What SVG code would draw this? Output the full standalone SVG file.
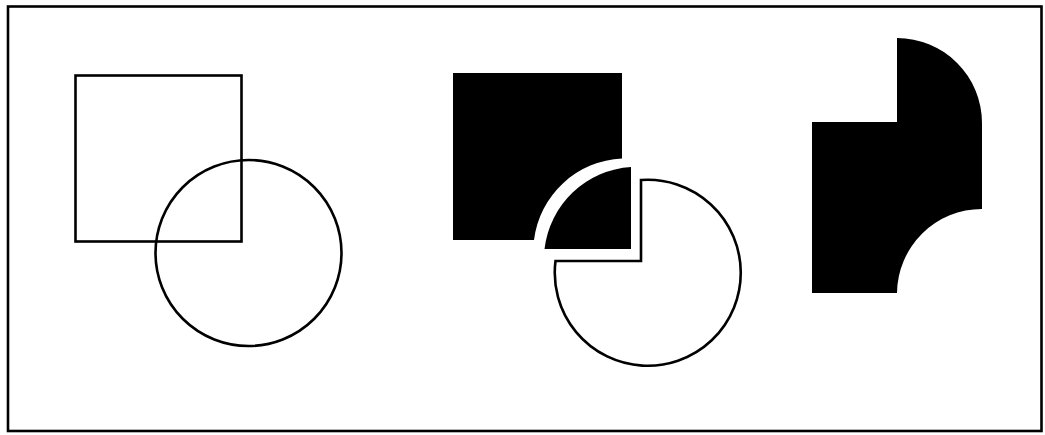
<svg xmlns="http://www.w3.org/2000/svg" width="1045" height="435" viewBox="0 0 1045 435">
<style>
.ol{fill:none;stroke:#000;stroke-width:2.6}
.solid{fill:#000;stroke:none}
</style>
<rect x="0" y="0" width="1045" height="435" fill="#fff"/>
<rect id="frame" x="8" y="6.5" width="1033.5" height="424.5" fill="none" stroke="#000" stroke-width="2.6"/>
<g id="original">
  <rect id="square" class="ol" x="75.5" y="75.5" width="166" height="166"/>
  <circle id="circle" class="ol" cx="248.5" cy="253" r="93"/>
</g>
<g id="divided">
  <path id="square-part" class="solid" d="M453,73 L622,73 L622,158.5 A93,93 0 0 0 534,240 L453,240 Z"/>
  <path id="intersection-part" class="solid" d="M631,167 L631,249 L544.5,249 A93,93 0 0 1 631,167 Z"/>
  <path id="circle-part" class="ol" d="M641,180 L641,261 L555.5,261 A93,93 0 1 0 641,180 Z"/>
</g>
<g id="result">
  <path id="xor-shape" class="solid" d="M812,122 L897,122 L897,38 A85,85 0 0 1 982,123 L982,209 A85,85 0 0 0 897,293 L812,293 Z"/>
</g>
</svg>
